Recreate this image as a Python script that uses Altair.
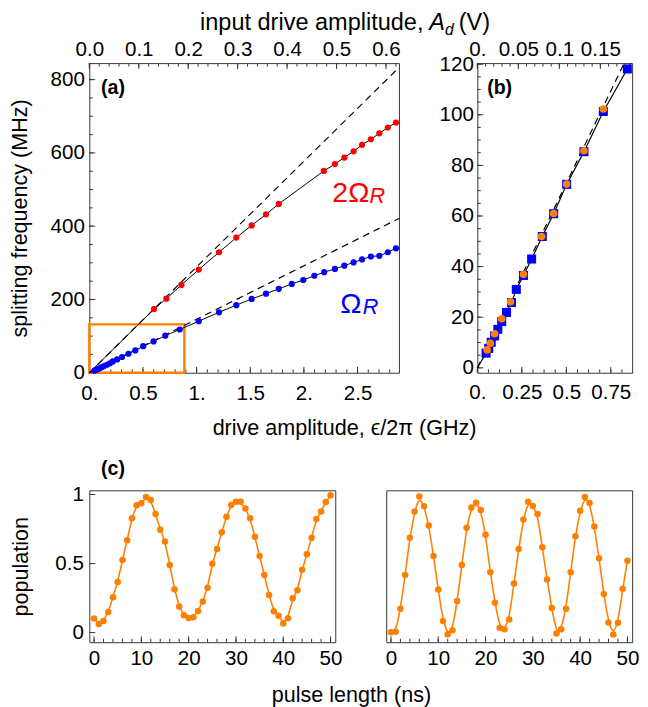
import altair as alt
import pandas as pd

FONT = "Liberation Sans"
FS = 21      # tick labels
FT = 22      # axis titles
RED = "#ff0000"
BLUE = "#0000ff"
ORANGE = "#ff8000"
FRAME = "#333333"

# ---------------- data ----------------
# panel (a): 2*Omega_R (red) vs drive amplitude eps/2pi (GHz)
red_eps = [0.603, 0.718, 0.858, 1.020, 1.209, 1.370, 1.513, 1.647, 1.766, 2.186,
           2.289, 2.377, 2.463, 2.542, 2.624, 2.703, 2.782, 2.858]
red_val = [173.8, 202.3, 239.7, 281.6, 328.9, 369.0, 402.0, 432.3, 460.8, 550.8,
           569.5, 587.3, 604.3, 622.1, 637.3, 653.3, 669.3, 682.7]
# Omega_R (blue) low-drive points (also the squares of panel b)
sq_eps = [0.049, 0.064, 0.078, 0.097, 0.115, 0.137, 0.164, 0.192, 0.219, 0.259,
          0.305, 0.365, 0.429, 0.502, 0.599, 0.708, 0.843]
sq_val = [5.8, 7.7, 10.1, 12.6, 15.2, 18.3, 21.9, 25.8, 31.0, 36.5,
          43.0, 51.9, 60.9, 72.5, 85.4, 101.3, 118.1]
# Omega_R (blue) high-drive points
hi_eps = [1.020, 1.209, 1.370, 1.513, 1.647, 1.766, 1.887, 1.994, 2.097, 2.189,
          2.289, 2.377, 2.463, 2.542, 2.624, 2.703, 2.782, 2.858]
hi_val = [140.8, 164.9, 184.5, 201.4, 215.7, 229.1, 242.4, 253.1, 264.7, 274.5,
          283.4, 292.3, 301.2, 309.3, 317.3, 319.1, 328.9, 339.6]
# panel (b): orange circles (from time-domain Rabi)
circ_eps = [0.055, 0.073, 0.097, 0.137, 0.186, 0.259, 0.361, 0.429, 0.502, 0.599, 0.708]
circ_val = [7.1, 9.7, 13.5, 19.4, 26.1, 37.0, 51.9, 61.0, 72.6, 85.8, 102.3]
# linear (dashed) references
dash_eps = [0.0, 2.886]
dash2_val = [0.0, 833.0]
dash1_val = [0.0, 421.0]
# zoom box of panel (b) drawn in (a)
box_eps = [0.0, 0.886]
box_val = [0.0, 132.0]
# panel (c): Rabi oscillations
t_ns = list(range(0, 51))
pop_left = [0.101, 0.062, 0.083, 0.149, 0.255, 0.366, 0.525, 0.669, 0.827, 0.922,
            0.936, 0.981, 0.960, 0.858, 0.745, 0.660, 0.490, 0.314, 0.189, 0.125,
            0.106, 0.111, 0.156, 0.225, 0.324, 0.499, 0.605, 0.726, 0.839, 0.924,
            0.948, 0.948, 0.898, 0.827, 0.693, 0.555, 0.416, 0.272, 0.154, 0.121,
            0.066, 0.104, 0.248, 0.307, 0.454, 0.567, 0.686, 0.823, 0.877, 0.945,
            0.995]
pop_right = [0.002, 0.005, 0.172, 0.416, 0.686, 0.877, 0.986, 0.915, 0.775, 0.555,
             0.312, 0.083, -0.012, 0.017, 0.229, 0.489, 0.759, 0.905, 0.941, 0.887,
             0.709, 0.437, 0.215, 0.035, 0.024, 0.094, 0.355, 0.605, 0.818, 0.948,
             0.917, 0.858, 0.617, 0.385, 0.177, -0.007, 0.024, 0.172, 0.437, 0.698,
             0.882, 0.981, 0.938, 0.768, 0.539, 0.279, 0.073, -0.014, 0.071, 0.317,
             0.520]

# tick values
a_x_major = [0, 0.5, 1, 1.5, 2, 2.5]
a_top_major = [0, 0.1, 0.2, 0.3, 0.4, 0.5, 0.6]
a_y_major = [0, 200, 400, 600, 800]
b_x_major = [0, 0.25, 0.5, 0.75]
b_top_major = [0, 0.05, 0.1, 0.15]
b_y_major = [0, 20, 40, 60, 80, 100, 120]
c_x_major = [0, 10, 20, 30, 40, 50]
c_y_major = [0, 0.5, 1]

K = 0.217  # volts per GHz (top axis conversion)


def steps(step, n):
    return [round(i * step, 6) for i in range(n)]


a_x_minor = steps(0.1, 29)
a_top_minor = steps(0.02, 32)
a_y_minor = steps(50, 17)
b_x_minor = steps(0.0625, 14)
b_top_minor = steps(0.01, 19)
b_y_minor = steps(5, 25)
c_x_minor = steps(2, 26)

MAJ, MIN = 6, 3.5
MS_EXPR = "datum.value % 1 == 0 ? datum.value + '.' : '' + datum.value"
PLAIN_EXPR = "'' + datum.value"

AX = dict(ticks=False, domain=False, grid=False, labelFont=FONT, labelFontSize=FS,
          labelColor="black", titleFont=FONT, titleFontSize=FT, titleColor="black",
          titleFontWeight="normal", labelOverlap=False, labelFlush=False)


def df(x, y=None):
    if y is None:
        return pd.DataFrame({"x": x})
    return pd.DataFrame({"x": x, "y": y})


def bottom_ticks(X, vals, L, H):
    return alt.Chart(df(vals)).mark_rule(color=FRAME, strokeWidth=1).encode(
        x=X, y=alt.value(H), y2=alt.value(H - L))


def top_ticks(X, vals, L):
    return alt.Chart(df(vals)).mark_rule(color=FRAME, strokeWidth=1).encode(
        x=X, y=alt.value(0), y2=alt.value(L))


def left_ticks(Y, vals, L):
    return alt.Chart(pd.DataFrame({"y": vals})).mark_rule(color=FRAME, strokeWidth=1).encode(
        y=Y, x=alt.value(0), x2=alt.value(L))


def label(text, x, y, size=FS, color="black", weight="normal", style="normal",
          align="left", baseline="alphabetic"):
    return alt.Chart(pd.DataFrame({"t": [text]})).mark_text(
        font=FONT, fontSize=size, color=color, fontWeight=weight, fontStyle=style,
        align=align, baseline=baseline).encode(text="t:N", x=alt.value(x), y=alt.value(y))


# ---------------- panel (a) ----------------
WA, HA = 316, 316
AEPS = 2.886
xa_scale = alt.Scale(domain=[0, AEPS], nice=False, zero=False)
ya_scale = alt.Scale(domain=[0, 845], nice=False, zero=False)
XA = alt.X("x:Q", scale=xa_scale, axis=alt.Axis(
    values=a_x_major, labelExpr=MS_EXPR, title="drive amplitude, ϵ/2π (GHz)",
    titleX=260, labelPadding=10, titlePadding=15, **AX))
YA = alt.Y("y:Q", scale=ya_scale, axis=alt.Axis(
    values=a_y_major, labelExpr=PLAIN_EXPR, title="splitting frequency (MHz)",
    labelPadding=5, titlePadding=19, **AX))

a_layers = [
    bottom_ticks(XA, a_x_minor, MIN, HA),
    bottom_ticks(XA, a_x_major, MAJ, HA),
    left_ticks(YA, a_y_minor, MIN),
    left_ticks(YA, a_y_major, MAJ),
    alt.Chart(pd.DataFrame({"x": [box_eps[0]], "x2": [box_eps[1]],
                            "y": [box_val[0]], "y2": [box_val[1]]}))
    .mark_rect(fill=None, fillOpacity=0, stroke=ORANGE, strokeWidth=2.5)
    .encode(x=XA, x2="x2:Q", y=YA, y2="y2:Q"),
    alt.Chart(df(dash_eps, dash2_val)).mark_line(color="black", strokeWidth=1.2,
                                                  strokeDash=[7, 5]).encode(x=XA, y=YA),
    alt.Chart(df(dash_eps, dash1_val)).mark_line(color="black", strokeWidth=1.2,
                                                  strokeDash=[7, 5]).encode(x=XA, y=YA),
    alt.Chart(df([0.0] + red_eps, [0.0] + red_val)).mark_line(
        color="black", strokeWidth=1).encode(x=XA, y=YA),
    alt.Chart(df([0.0] + sq_eps + hi_eps, [0.0] + sq_val + hi_val)).mark_line(
        color="black", strokeWidth=1).encode(x=XA, y=YA),
    alt.Chart(df(red_eps, red_val)).mark_circle(size=40, color=RED, opacity=1).encode(x=XA, y=YA),
    alt.Chart(df(sq_eps + hi_eps, sq_val + hi_val)).mark_circle(size=40, color=BLUE, opacity=1).encode(x=XA, y=YA),
    label("(a)", 12, 32, size=20, weight="bold"),
    label("2Ω", 248, 142, size=29, color=RED),
    label("R", 286, 143, size=22, color=RED, style="italic"),
    label("Ω", 256, 255, size=29, color=BLUE),
    label("R", 279, 256, size=22, color=BLUE, style="italic"),
    label("input drive amplitude,", 341, -34, size=24, align="right"),
    label("A", 347, -34, size=24, style="italic"),
    label("d", 363, -29, size=16, style="italic"),
    label("(V)", 377, -34, size=24),
]
a_main = alt.layer(*a_layers)
XA_TOP = alt.X("x:Q", scale=alt.Scale(domain=[0, AEPS * K], nice=False, zero=False),
               axis=alt.Axis(orient="top", values=a_top_major, format=".1f", title=None,
                             labelPadding=4, **AX))
a_top = alt.layer(top_ticks(XA_TOP, a_top_minor, MIN), top_ticks(XA_TOP, a_top_major, MAJ))
panel_a = alt.layer(a_main, a_top).resolve_scale(x="independent").properties(width=WA, height=HA)

# ---------------- panel (b) ----------------
WB, HB = 158, 316
BEPS = 0.87
xb_scale = alt.Scale(domain=[0, BEPS], nice=False, zero=False)
yb_scale = alt.Scale(domain=[-1.94, 120.4], nice=False, zero=False)
XB = alt.X("x:Q", scale=xb_scale, axis=alt.Axis(values=b_x_major, labelExpr=MS_EXPR,
                                                 title=None, labelPadding=9, **AX))
YB = alt.Y("y:Q", scale=yb_scale, axis=alt.Axis(values=b_y_major, labelExpr=PLAIN_EXPR,
                                                 title=None, labelPadding=4, **AX))
b_layers = [
    bottom_ticks(XB, b_x_minor, MIN, HB),
    bottom_ticks(XB, b_x_major, MAJ, HB),
    left_ticks(YB, b_y_minor, MIN),
    left_ticks(YB, b_y_major, MAJ),
    alt.Chart(df(dash_eps, dash1_val)).mark_line(color="black", strokeWidth=1.2,
                                                  strokeDash=[7, 5], clip=True).encode(x=XB, y=YB),
    alt.Chart(df([0.0] + sq_eps + hi_eps, [0.0] + sq_val + hi_val)).mark_line(
        color="black", strokeWidth=1.2, clip=True).encode(x=XB, y=YB),
    alt.Chart(df(sq_eps, sq_val)).mark_square(size=85, color=BLUE, opacity=1).encode(x=XB, y=YB),
    alt.Chart(df(circ_eps, circ_val)).mark_circle(size=60, color=ORANGE, opacity=1).encode(x=XB, y=YB),
    label("(b)", 10, 31, size=20, weight="bold"),
]
b_main = alt.layer(*b_layers)
XB_TOP = alt.X("x:Q", scale=alt.Scale(domain=[0, BEPS * K], nice=False, zero=False),
               axis=alt.Axis(orient="top", values=b_top_major, labelExpr=MS_EXPR,
                             title=None, labelPadding=4, **AX))
b_top = alt.layer(top_ticks(XB_TOP, b_top_minor, MIN), top_ticks(XB_TOP, b_top_major, MAJ))
panel_b = alt.layer(b_main, b_top).resolve_scale(x="independent").properties(width=WB, height=HB)

# ---------------- panel (c) ----------------
WC, HC = 251, 155
xc_scale = alt.Scale(domain=[-1, 51], nice=False, zero=False)
yc_scale = alt.Scale(domain=[-0.07, 1.03], nice=False, zero=False)


def rabi_panel(values, first):
    if first:
        xax = alt.Axis(values=c_x_major, labelExpr=PLAIN_EXPR, title="pulse length (ns)",
                       titleX=267, labelPadding=6, titlePadding=17, **AX)
        yax = alt.Axis(values=c_y_major, labelExpr=PLAIN_EXPR, title="population",
                       labelPadding=6, titlePadding=23, **AX)
    else:
        xax = alt.Axis(values=c_x_major, labelExpr=PLAIN_EXPR, title=None,
                       labelPadding=6, **AX)
        yax = None
    X = alt.X("x:Q", scale=xc_scale, axis=xax)
    Y = alt.Y("y:Q", scale=yc_scale, axis=yax)
    layers = [
        bottom_ticks(X, c_x_minor, MIN, HC),
        bottom_ticks(X, c_x_major, MAJ, HC),
    ]
    if first:
        layers.append(left_ticks(Y, c_y_major, MAJ))
    layers += [
        alt.Chart(df(t_ns, values)).mark_line(color=ORANGE, strokeWidth=1.6,
                                              interpolate="basis").encode(x=X, y=Y),
        alt.Chart(df(t_ns, values)).mark_circle(size=44, color=ORANGE, opacity=1).encode(x=X, y=Y),
    ]
    if first:
        layers.append(label("(c)", 12, -16, size=20, weight="bold"))
    return alt.layer(*layers).properties(width=WC, height=HC)


panel_c1 = rabi_panel(pop_left, True)
panel_c2 = rabi_panel(pop_right, False)

top_row = alt.hconcat(panel_a, panel_b, spacing=80, bounds="flush")
bottom_row = alt.hconcat(panel_c1, panel_c2, spacing=52, bounds="flush")

chart = alt.vconcat(top_row, bottom_row, spacing=19).properties(
    padding={"left": 0, "top": -5, "right": 0, "bottom": 0}).configure_view(
    stroke=FRAME, strokeWidth=1)

chart.save("out.html", embed_options={"renderer": "svg", "actions": False})
